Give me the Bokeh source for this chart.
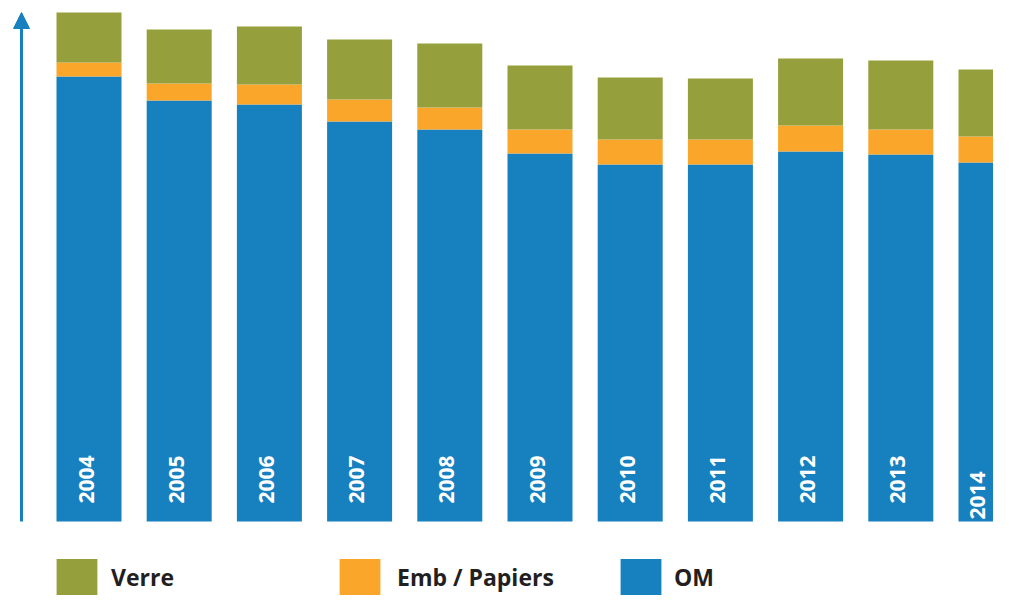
import math
from bokeh.plotting import figure
from bokeh.models import ColumnDataSource, Range1d, Legend, LegendItem, Arrow, NormalHead
from bokeh.core.properties import value
from bokeh.embed import file_html
from bokeh.resources import INLINE

# ---- data (arbitrary units, no scale shown) ----
years = [2004, 2005, 2006, 2007, 2008, 2009, 2010, 2011, 2012, 2013, 2014]
year_labels = [str(y) for y in years]
om = [445, 421, 417, 400, 392, 368, 357, 357, 370, 367, 359]
emb_papiers = [14, 17, 20, 22, 22, 24, 25, 25, 26, 25, 26]
verre = [50, 54, 58, 60, 64, 64, 62, 61, 67, 69, 67]
series_names = ["OM", "Emb / Papiers", "Verre"]

BLUE = "#1780BE"
ORANGE = "#F9A62A"
GREEN = "#959F3B"
TEXT = "#231F20"

W, H = 993, 595
px_per_unit = 90.2
x0 = years[0] - 88.5 / px_per_unit
x1 = x0 + W / px_per_unit
y_top = 521
y_bot = y_top - H

p = figure(width=W, height=H, output_backend="svg", toolbar_location=None,
           x_range=Range1d(x0, x1), y_range=Range1d(y_bot, y_top),
           x_axis_type=None, y_axis_type=None, min_border=0,
           outline_line_color=None, background_fill_color="white",
           border_fill_color="white")
p.xgrid.visible = False
p.ygrid.visible = False

src = ColumnDataSource(dict(year=years, om=om, emb=emb_papiers, verre=verre))
renderers = p.vbar_stack(["om", "emb", "verre"], x="year", width=65 / px_per_unit,
                         fill_color=[BLUE, ORANGE, GREEN], line_color=None, source=src)

# year labels inside bars (last one nudged so it stays inside the canvas)
label_dy = [-18] * (len(years) - 1) + [-2]
label_dx = [-3] * (len(years) - 1) + [-14]
lab_src = ColumnDataSource(dict(year=years, label=year_labels, dy=label_dy, dx=label_dx))
p.text(x="year", y=0, text="label", source=lab_src, angle=math.pi / 2,
       text_align="left", text_baseline="middle", text_color="white",
       text_font=value("Open Sans"), text_font_style="bold", text_font_size="21px",
       x_offset="dx", y_offset="dy")

# vertical axis arrow
ax = x0 + 21 / px_per_unit
p.add_layout(Arrow(x_start=ax, y_start=0, x_end=ax, y_end=509,
                   line_color=BLUE, line_width=3,
                   end=NormalHead(size=16, fill_color=BLUE, line_color=BLUE, line_width=1)))

# legends: Verre, Emb / Papiers, OM
legend_specs = [(renderers[2], series_names[2], 51, 9),
                (renderers[1], series_names[1], 334, 12),
                (renderers[0], series_names[0], 615, 8)]
for r, name, lx, standoff in legend_specs:
    lg = Legend(items=[LegendItem(label=name, renderers=[r])],
                location=(lx, -5), orientation="horizontal",
                glyph_width=51, glyph_height=46, label_standoff=standoff,
                padding=0, margin=0, spacing=0,
                border_line_color=None, background_fill_alpha=0,
                label_text_font="Open Sans", label_text_font_style="bold",
                label_text_font_size="23px", label_text_color=TEXT)
    p.add_layout(lg, "center")

open("out.html", "w").write(file_html(p, INLINE))
